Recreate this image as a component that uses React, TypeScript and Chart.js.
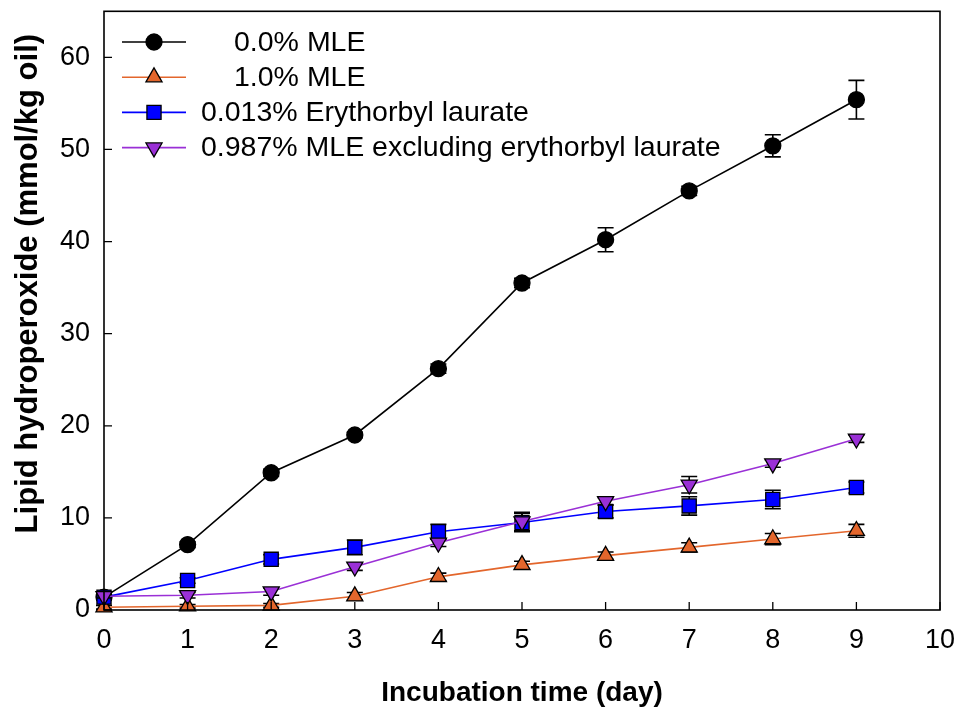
import { useEffect, useRef } from 'react';
import { Chart, registerables } from 'chart.js';

Chart.register(...registerables);

const days = [0, 1, 2, 3, 4, 5, 6, 7, 8, 9];

const mle0 = [1.4, 7.1, 14.9, 19.0, 26.2, 35.5, 40.2, 45.5, 50.4, 55.4];
const mle0Err = [0.3, 0.3, 0.4, 0.3, 0.5, 0.5, 1.3, 0.5, 1.2, 2.1];

const mle1 = [0.3, 0.4, 0.5, 1.5, 3.6, 4.9, 5.9, 6.8, 7.7, 8.6];
const mle1Err = [0.2, 0.2, 0.2, 0.4, 0.4, 0.4, 0.4, 0.5, 0.6, 0.7];

const ery = [1.4, 3.2, 5.5, 6.8, 8.5, 9.5, 10.7, 11.3, 12.0, 13.3];
const eryErr = [0.3, 0.3, 0.5, 0.8, 0.8, 1.0, 0.7, 1.0, 1.0, 0.6];

const mleEx = [1.5, 1.6, 2.0, 4.7, 7.3, 9.6, 11.8, 13.6, 15.9, 18.6];
const mleExErr = [0.2, 0.3, 0.4, 0.4, 0.4, 1.0, 0.4, 0.9, 0.4, 0.4];

const seriesLabels = [
  '0.0% MLE',
  '1.0% MLE',
  '0.013% Erythorbyl laurate',
  '0.987% MLE excluding erythorbyl laurate',
];

const xTitle = 'Incubation time (day)';
const yTitle = 'Lipid hydroperoxide (mmol/kg oil)';

const FONT = '"Liberation Sans", Arial, Helvetica, sans-serif';
const ORANGE = '#E3662C';
const BLUE = '#0000FF';
const PURPLE = '#9A30D6';

export default function App() {
  const ref = useRef<HTMLCanvasElement>(null);

  useEffect(() => {
    const canvas = ref.current;
    if (!canvas) return;
    const values = [mle0, mle1, ery, mleEx];
    const errors = [mle0Err, mle1Err, eryErr, mleExErr];

    const errorBars = {
      id: 'errorBars',
      beforeDatasetDraw(chart: any, args: any) {
        const idx = args.index;
        const vals = values[idx];
        const errs = errors[idx];
        const ys = chart.scales.y;
        const ctx = chart.ctx;
        ctx.save();
        ctx.strokeStyle = '#000';
        ctx.lineWidth = 1.6;
        args.meta.data.forEach((pt: any, i: number) => {
          const x = pt.x;
          const yT = ys.getPixelForValue(vals[i] + errs[i]);
          const yB = ys.getPixelForValue(vals[i] - errs[i]);
          ctx.beginPath();
          ctx.moveTo(x, yT);
          ctx.lineTo(x, yB);
          ctx.moveTo(x - 8, yT);
          ctx.lineTo(x + 8, yT);
          ctx.moveTo(x - 8, yB);
          ctx.lineTo(x + 8, yB);
          ctx.stroke();
        });
        ctx.restore();
      },
    };

    const drawMarker = (ctx: CanvasRenderingContext2D, style: string, x: number, y: number, fill: string) => {
      ctx.beginPath();
      if (style === 'circle') {
        ctx.arc(x, y, 8, 0, Math.PI * 2);
      } else if (style === 'tri' || style === 'invtri') {
        const r = 9.3;
        const base = style === 'tri' ? 0 : Math.PI;
        for (let k = 0; k < 3; k++) {
          const a = base + (k * 2 * Math.PI) / 3;
          const px = x + Math.sin(a) * r;
          const py = y - Math.cos(a) * r;
          if (k === 0) ctx.moveTo(px, py); else ctx.lineTo(px, py);
        }
        ctx.closePath();
      } else {
        const s = 10 * Math.SQRT1_2;
        ctx.rect(x - s, y - s, 2 * s, 2 * s);
      }
      ctx.fillStyle = fill;
      ctx.fill();
      ctx.lineWidth = 1.3;
      ctx.strokeStyle = '#000';
      ctx.stroke();
    };

    const decor = {
      id: 'decor',
      afterDraw(chart: any) {
        const ctx = chart.ctx as CanvasRenderingContext2D;
        const { left, right, top, bottom } = chart.chartArea;
        ctx.save();
        ctx.strokeStyle = '#000';
        ctx.lineWidth = 1.6;
        ctx.strokeRect(left, top, right - left, bottom - top);
        ctx.lineWidth = 1.3;
        ctx.beginPath();
        chart.scales.x.ticks.forEach((t: any) => {
          const px = chart.scales.x.getPixelForValue(t.value);
          ctx.moveTo(px, bottom);
          ctx.lineTo(px, bottom - 8);
        });
        chart.scales.y.ticks.forEach((t: any) => {
          const py = chart.scales.y.getPixelForValue(t.value);
          ctx.moveTo(left, py);
          ctx.lineTo(left + 8, py);
        });
        ctx.stroke();

        const rows = [
          { color: '#000', style: 'circle', fill: '#000', tx: 234 },
          { color: ORANGE, style: 'tri', fill: ORANGE, tx: 234 },
          { color: BLUE, style: 'rect', fill: BLUE, tx: 201 },
          { color: PURPLE, style: 'invtri', fill: PURPLE, tx: 201 },
        ];
        ctx.font = `28.5px ${FONT}`;
        ctx.textBaseline = 'middle';
        ctx.textAlign = 'left';
        rows.forEach((r, i) => {
          const y = 42 + i * 35.2;
          ctx.strokeStyle = r.color;
          ctx.lineWidth = 1.6;
          ctx.beginPath();
          ctx.moveTo(122, y);
          ctx.lineTo(186, y);
          ctx.stroke();
          drawMarker(ctx, r.style, 154, y, r.fill);
          ctx.fillStyle = '#000';
          ctx.fillText(seriesLabels[i], r.tx, y + 1);
        });

        ctx.translate(28, (top + bottom) / 2 - 27);
        ctx.rotate(-Math.PI / 2);
        ctx.font = `bold 31px ${FONT}`;
        ctx.textAlign = 'center';
        ctx.textBaseline = 'middle';
        ctx.fillStyle = '#000';
        ctx.fillText(yTitle, 0, 0);
        ctx.restore();
      },
    };

    const mk = (label: string, data: number[], color: string, style: string, radius: number, rotation: number, order: number) => ({
      label,
      data: days.map((d, i) => ({ x: d, y: data[i] })),
      borderColor: color,
      borderWidth: 1.6,
      backgroundColor: color,
      pointBackgroundColor: color,
      pointBorderColor: '#000',
      pointBorderWidth: 1.3,
      pointStyle: style,
      pointRadius: radius,
      pointRotation: rotation,
      pointHoverRadius: radius,
      tension: 0,
      clip: false as any,
      order,
    });

    const chart = new Chart(canvas, {
      type: 'line',
      data: {
        datasets: [
          mk(seriesLabels[0], mle0, '#000', 'circle', 8, 0, 4),
          mk(seriesLabels[1], mle1, ORANGE, 'triangle', 9.3, 0, 3),
          mk(seriesLabels[2], ery, BLUE, 'rect', 10, 0, 2),
          mk(seriesLabels[3], mleEx, PURPLE, 'triangle', 9.3, 180, 1),
        ],
      },
      options: {
        animation: false,
        responsive: false,
        events: [],
        layout: { padding: { top: 10, right: 23, left: 0, bottom: 0 } },
        plugins: {
          legend: { display: false },
          tooltip: { enabled: false },
          title: { display: false },
        },
        scales: {
          x: {
            type: 'linear',
            min: 0,
            max: 10,
            grid: { display: false, drawTicks: false },
            border: { display: false },
            ticks: {
              stepSize: 1,
              autoSkip: false,
              maxRotation: 0,
              padding: 14,
              color: '#000',
              font: { family: FONT, size: 27 },
            },
            title: {
              display: true,
              text: xTitle,
              color: '#000',
              font: { family: FONT, size: 28, weight: 'bold' },
              padding: { top: 0, bottom: 4 },
            },
            afterFit: (s: any) => {
              s.height = 104;
              s.paddingLeft = 0;
              s.paddingRight = 0;
            },
          },
          y: {
            type: 'linear',
            min: 0,
            max: 65,
            grid: { display: false, drawTicks: false },
            border: { display: false },
            afterBuildTicks: (s: any) => {
              s.ticks = s.ticks.filter((t: any) => t.value % 10 === 0);
            },
            ticks: {
              stepSize: 10,
              autoSkip: false,
              padding: 14,
              color: '#000',
              font: { family: FONT, size: 27 },
            },
            afterFit: (s: any) => {
              s.width = 104;
              s.paddingTop = 0;
              s.paddingBottom = 0;
            },
          },
        },
      },
      plugins: [errorBars, decor],
    } as any);

    return () => chart.destroy();
  }, []);

  return (
    <div style={{ position: 'fixed', left: 0, top: 0, width: 963, height: 714, background: '#fff' }}>
      <canvas ref={ref} width={963} height={714} style={{ width: 963, height: 714, display: 'block' }} />
    </div>
  );
}
